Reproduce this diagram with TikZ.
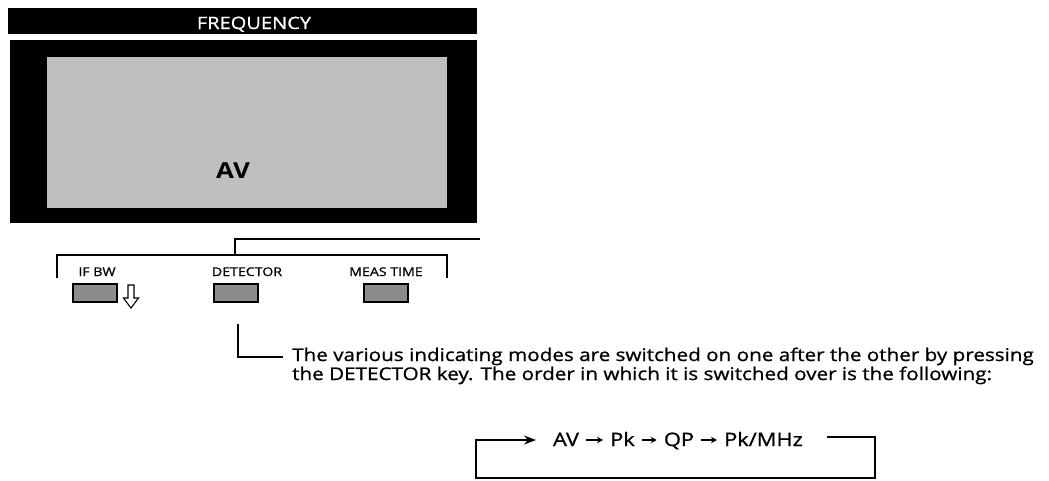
\documentclass[tikz,border=0pt]{standalone}
\usepackage{fontspec}
\setmainfont{Open Sans}[FakeStretch=1.18]
\usetikzlibrary{arrows.meta}
\begin{document}
\begin{tikzpicture}[x=1pt,y=-1pt,
  keybox/.style={draw=black,line width=1.6pt,fill=black!45,minimum width=44pt,minimum height=18pt,inner sep=0pt},
  keylabel/.style={font=\fontsize{12}{12}\selectfont\addfontfeature{FakeBold=0.8},anchor=base,inner sep=0pt},
  wire/.style={line width=1.4pt},
  body/.style={font=\fontsize{17.5}{19}\selectfont\addfontfeature{FakeBold=1},anchor=base west,inner sep=0pt},
  seq/.style={font=\fontsize{18.5}{19}\selectfont\addfontfeature{FakeBold=1},anchor=base,inner sep=0pt},
  smallarrow/.style={line width=1.4pt,-{Stealth[length=6pt,width=6.5pt]}}]
\useasboundingbox (0,0) rectangle (1049,480);
% title bar
\fill[black] (8,8) rectangle (477,34);
\node[font=\fontsize{17}{17}\selectfont\addfontfeature{FakeBold=0.8},text=white,anchor=base,inner sep=0pt] (title) at (254,29) {FREQUENCY};
% display
\fill[black] (10,40) rectangle (477,223);
\fill[black!25] (47,57) rectangle (447,208);
\node[font=\bfseries\fontsize{22}{22}\selectfont,anchor=base,inner sep=0pt] (disp) at (233,178) {AV};
% bracket
\coordinate (bt) at (480,239);
\coordinate (bj) at (235,239);
\coordinate (bm) at (235,255);
\coordinate (bl) at (57,255);
\coordinate (bld) at (57,278);
\coordinate (br) at (447,255);
\coordinate (brd) at (447,278);
\draw[wire] (bt) -- (bj) -- (bm);
\draw[wire] (bld) -- (bl) -- (br) -- (brd);
% labels and keys
\node[keylabel] (lifbw) at (97,276) {IF BW};
\node[keylabel] (ldet) at (247,276) {DETECTOR};
\node[keylabel] (lmeas) at (386,276) {MEAS TIME};
\node[keybox] (kifbw) at (95,293) {};
\node[keybox] (kdet) at (236,293) {};
\node[keybox] (kmeas) at (386,293) {};
% hollow down arrow
\draw[line width=1.1pt,fill=white] (128,285) -- (134,285) -- (134,298) -- (138.5,298) -- (131,308) -- (123.5,298) -- (128,298) -- cycle;
% L connector
\coordinate (lc1) at (238,324);
\coordinate (lc2) at (238,357);
\coordinate (lc3) at (283,357);
\draw[wire] (lc1) -- (lc2) -- (lc3);
\node[body] (t1) at (292,361) {The various indicating modes are switched on one after the other by pressing};
\node[body] (t2) at (292,380) {the DETECTOR key. The order in which it is switched over is the following:};
% sequence
\node[seq] (sAV) at (566,446) {AV};
\node[seq] (sPk) at (622.5,446) {Pk};
\node[seq] (sQP) at (679,446) {QP};
\node[seq] (sPkM) at (763.5,446) {Pk/MHz};
\draw[smallarrow] ([xshift=7pt]sAV.east |- 0,440) -- ([xshift=-7pt]sPk.west |- 0,440);
\draw[smallarrow] ([xshift=7pt]sPk.east |- 0,440) -- ([xshift=-7pt]sQP.west |- 0,440);
\draw[smallarrow] ([xshift=7pt]sQP.east |- 0,440) -- ([xshift=-7pt]sPkM.west |- 0,440);
% loop
\coordinate (la) at (827,437);
\coordinate (lb) at (875,437);
\coordinate (lcc) at (875,478);
\coordinate (ld) at (476,478);
\coordinate (le) at (476,440);
\coordinate (lf) at (536,440);
\draw[wire,-{Stealth[length=12pt,width=9pt]}] (la) -- (lb) -- (lcc) -- (ld) -- (le) -- (lf);
\end{tikzpicture}
\end{document}
